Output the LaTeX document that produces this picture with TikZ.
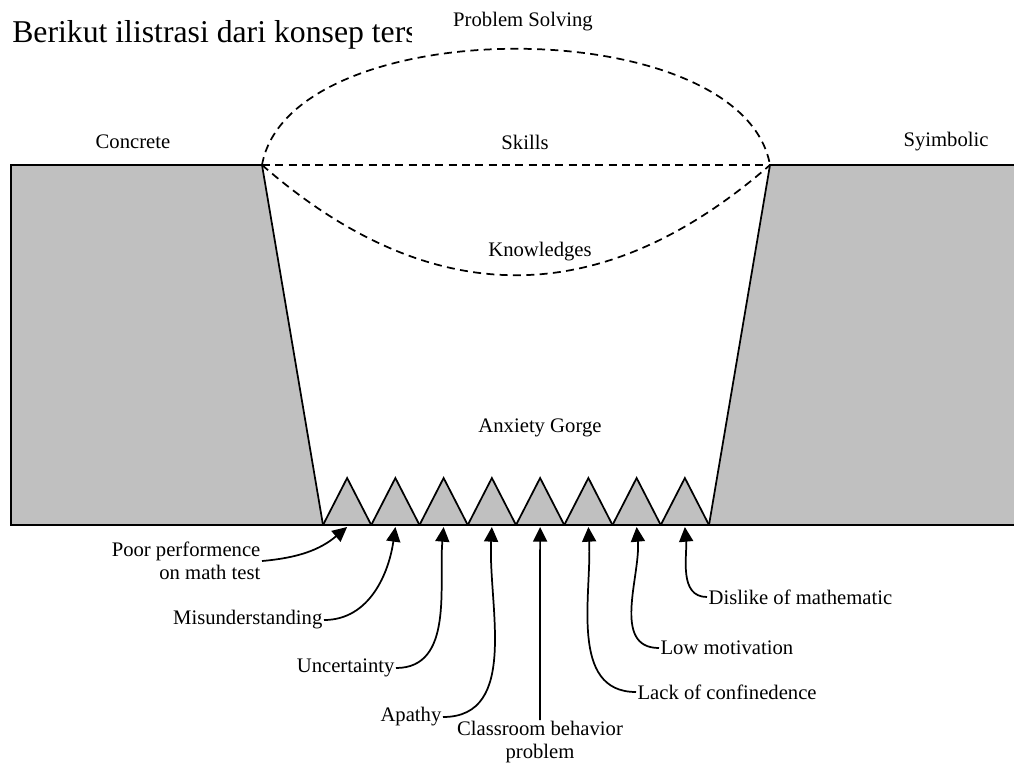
\documentclass[tikz,border=0pt]{standalone}
\usepackage{fontspec}
\setmainfont{Liberation Serif}
\usetikzlibrary{arrows.meta, calc, positioning}
\definecolor{gorgegray}{RGB}{192,192,192}
\tikzset{
  lbl/.style={font=\fontsize{15.5}{17}\selectfont, inner sep=1pt},
  cliff/.style={fill=gorgegray, draw=black, line width=1.3pt},
  bridge/.style={dash pattern=on 6pt off 4pt, line width=1.3pt},
  cause/.style={line width=1.3pt, -{Triangle[length=11pt,width=10.5pt]}}
}

\begin{document}
\begin{tikzpicture}[x=0.75pt, y=-0.75pt]
                  \useasboundingbox (0,0) rectangle (1014,765);

                  \node[anchor=base west, inner sep=0, font=\fontsize{23.8}{28}\selectfont] (title) at (12,42) {Berikut ilistrasi dari konsep ters};
                  \node[lbl, fill=white, minimum width=166pt, minimum height=50pt] (solving) at (523,22) {Problem Solving};

                  \path[cliff] (11,165) -- (262,165) -- (323,525) -- (11,525) -- cycle;
                  \path[cliff] (770,165) -- (1020,165) -- (1020,525) -- (709,525) -- cycle;

                  \foreach \k in {0,...,7}
                  \path[cliff] ({323+48.25*\k},525) -- ({347.125+48.25*\k},478) -- ({371.25+48.25*\k},525) -- cycle;

                  \foreach[count=\i] \k in {0,...,7}
                  \coordinate (tip\i) at ({347.125+48.25*\k},527);

                  \coordinate (lrim) at (262,165);
                  \coordinate (rrim) at (770,165);
                  \draw[bridge] (lrim) .. controls (290,10) and (742,10) .. (rrim);
                  \draw[bridge] (lrim) -- (rrim);
                  \draw[bridge] (lrim) .. controls (431,312) and (601,312) .. (rrim);

                  \node[lbl] (concrete) at (133,142) {Concrete};
                  \node[lbl] (skills) at (525,142) {Skills};
                  \node[lbl] (symbolic) at (946,142) {Syimbolic};
                  \node[lbl] (knowledges) at (540,252) {Knowledges};
                  \node[lbl] (anxiety) at (540,428) {Anxiety Gorge};

                  \node[lbl, align=right, anchor=east] (poor) at (262,561) {Poor performence\\on math test};
                  \node[lbl, anchor=east] (misund) at (324,620) {Misunderstanding};
                  \node[lbl, anchor=east] (uncert) at (396,668) {Uncertainty};
                  \node[lbl, anchor=east] (apathy) at (443,717) {Apathy};
                  \node[lbl, align=center, anchor=north] (classroom) at (540,720) {Classroom behavior\\problem};
                  \node[lbl, anchor=west] (lack) at (636,692) {Lack of confinedence};
                  \node[lbl, anchor=west] (lowmot) at (659,648) {Low motivation};
                  \node[lbl, anchor=west] (dislike) at (707,597) {Dislike of mathematic};

                  \draw[cause] (poor.east) to[out=5, in=220] (tip1);
                  \draw[cause] (misund.east) to[out=0, in=-98] (tip2);
                  \draw[cause] (uncert.east) to[out=0, in=-95] (tip3);
                  \draw[cause] (apathy.east) to[out=0, in=-93] (tip4);
                  \draw[cause] (classroom.north) -- (tip5);
                  \draw[cause] (lack.west) to[out=180, in=-87] (tip6);
                  \draw[cause] (lowmot.west) to[out=180, in=-85] (tip7);
                  \draw[cause] (dislike.west) to[out=180, in=-85] (tip8);
              \end{tikzpicture}
\end{document}
